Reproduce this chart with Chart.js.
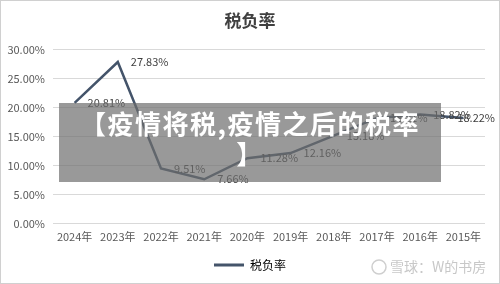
<!DOCTYPE html>
<html>
<head>
<meta charset="utf-8">
<script src="https://cdn.jsdelivr.net/npm/chart.js@4.4.1/dist/chart.umd.min.js"></script>
<style>
    html, body { margin: 0; padding: 0; background: #fff; }
    #wrap { position: relative; width: 500px; height: 284px; box-sizing: border-box; border: 1px solid #d0d0d0; }
    #banner {
        position: absolute; left: 58px; top: 102px; width: 382px; height: 79px;
        background: rgba(110, 110, 110, 0.7); color: #fff;
        font-family: "Noto Sans CJK SC", sans-serif; font-weight: bold; font-size: 26px;
        letter-spacing: 1.5px; line-height: 30px; text-align: center; padding-top: 5px; box-sizing: border-box;
    }
</style>
</head>
<body>
<div id="wrap">
    <canvas id="taxChart" width="498" height="282"></canvas>
    <div id="banner">【疫情将税,疫情之后的税率<br>】</div>
</div>
<script>
const years = ['2024年', '2023年', '2022年', '2021年', '2020年', '2019年', '2018年', '2017年', '2016年', '2015年'];
const taxRate = [20.81, 27.83, 9.51, 7.66, 11.28, 12.16, 15.18, 18.21, 18.82, 18.22];
const seriesName = '税负率';
const yTicks = [0, 5, 10, 15, 20, 25, 30];

const lineColor = '#44546a';
const textColor = '#595959';
const cjkFont = '"Noto Sans CJK SC", sans-serif';

// value labels to the right of each point, pulled back in if they would run off the edge
const pointLabels = {
    id: 'pointLabels',
    afterDatasetsDraw(chart) {
        const ctx = chart.ctx;
        const meta = chart.getDatasetMeta(0);
        ctx.save();
        ctx.font = '11px ' + cjkFont;
        ctx.fillStyle = '#404040';
        ctx.textAlign = 'left';
        ctx.textBaseline = 'middle';
        meta.data.forEach((pt, i) => {
            const txt = taxRate[i].toFixed(2) + '%';
            const w = ctx.measureText(txt).width;
            const x = Math.min(pt.x + 13, chart.width - 4 - w);
            ctx.fillText(txt, x, pt.y);
        });
        ctx.restore();
    }
};

const watermark = {
    id: 'watermark',
    afterDraw(chart) {
        const ctx = chart.ctx;
        ctx.save();
        ctx.strokeStyle = '#cfcfcf';
        ctx.lineWidth = 1.5;
        ctx.beginPath();
        ctx.arc(378, 266, 7, 0, Math.PI * 2);
        ctx.stroke();
        ctx.font = '14px ' + cjkFont;
        ctx.fillStyle = '#c8c8c8';
        ctx.textBaseline = 'middle';
        ctx.fillText('雪球：W的书房', 389, 266);
        ctx.restore();
    }
};

const ctx = document.getElementById('taxChart').getContext('2d');
new Chart(ctx, {
    type: 'line',
    data: {
        labels: years,
        datasets: [{
            label: seriesName,
            data: taxRate,
            borderColor: lineColor,
            backgroundColor: lineColor,
            borderWidth: 2.5,
            pointRadius: 0,
            tension: 0,
            fill: false
        }]
    },
    options: {
        responsive: false,
        animation: false,
        layout: { padding: { left: 0, right: 0, top: 4, bottom: 2 } },
        plugins: {
            title: {
                display: true,
                text: '税负率',
                color: '#404040',
                font: { family: cjkFont, size: 17, weight: 'bold' },
                padding: { top: 5, bottom: 19 }
            },
            legend: {
                position: 'bottom',
                labels: {
                    color: '#404040',
                    font: { family: cjkFont, size: 12 },
                    boxWidth: 30,
                    boxHeight: 0,
                    padding: 10,
                    generateLabels: (chart) => [{
                        text: seriesName,
                        strokeStyle: lineColor,
                        fillStyle: lineColor,
                        lineWidth: 3,
                        datasetIndex: 0
                    }]
                }
            },
            tooltip: { enabled: false }
        },
        scales: {
            x: {
                offset: true,
                grid: { display: false, drawTicks: false },
                border: { display: false },
                ticks: { color: textColor, font: { family: cjkFont, size: 11 }, maxRotation: 0, padding: 6 }
            },
            y: {
                min: 0,
                max: 30,
                afterBuildTicks: (axis) => { axis.ticks = yTicks.map(v => ({ value: v })); },
                afterFit: (axis) => { axis.width = 52; },
                grid: { color: '#d9d9d9', drawTicks: false },
                border: { display: false },
                ticks: {
                    color: textColor,
                    font: { family: cjkFont, size: 11 },
                    padding: 8,
                    callback: (v) => v.toFixed(2) + '%'
                }
            },
            // empty strip on the right so the plot stops short of the frame
            yRight: {
                position: 'right',
                min: 0,
                max: 30,
                afterFit: (axis) => { axis.width = 14; },
                grid: { display: false, drawTicks: false },
                border: { display: false },
                ticks: { display: false }
            }
        }
    },
    plugins: [pointLabels, watermark]
});
</script>
</body>
</html>
